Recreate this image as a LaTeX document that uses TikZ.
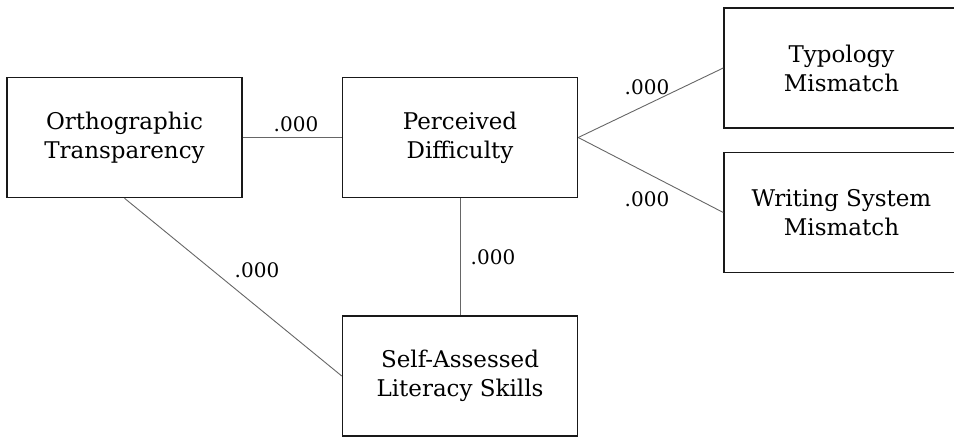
\documentclass[tikz,border=0pt]{standalone}
\usepackage{fontspec}
\setmainfont{DejaVu Serif}
\begin{document}
\begin{tikzpicture}[x=1pt,y=-1pt,
  box/.style={draw=black!90,line width=1.5pt,minimum width=235pt,minimum height=120pt,
    align=center,inner sep=0pt,font=\fontsize{23}{29}\selectfont},
  link/.style={draw=black!60,line width=0.9pt},
  lbl/.style={font=\fontsize{20}{24}\selectfont,inner sep=0pt}]
\useasboundingbox (0,0) rectangle (954,437);
\clip (0,0) rectangle (954,437);
\node[box] (ot) at (124.5,137.5) {Orthographic\\Transparency};
\node[box] (pd) at (460,137.5) {Perceived\\Difficulty};
\node[box] (tm) at (841.5,68) {Typology\\Mismatch};
\node[box] (ws) at (841.5,212.5) {Writing System\\Mismatch};
\node[box] (sa) at (460,376) {Self-Assessed\\Literacy Skills};
\draw[link] (ot.east) -- (pd.west);
\draw[link] (pd.east) -- (tm.west);
\draw[link] (pd.east) -- (ws.west);
\draw[link] (pd.south) -- (sa.north);
\draw[link] (ot.south) -- (sa.west);
\node[lbl] (l1) at (296,124) {.000};
\node[lbl] (l2) at (647,87) {.000};
\node[lbl] (l3) at (647,199) {.000};
\node[lbl] (l4) at (493,257) {.000};
\node[lbl] (l5) at (257,270) {.000};
\end{tikzpicture}
\end{document}
